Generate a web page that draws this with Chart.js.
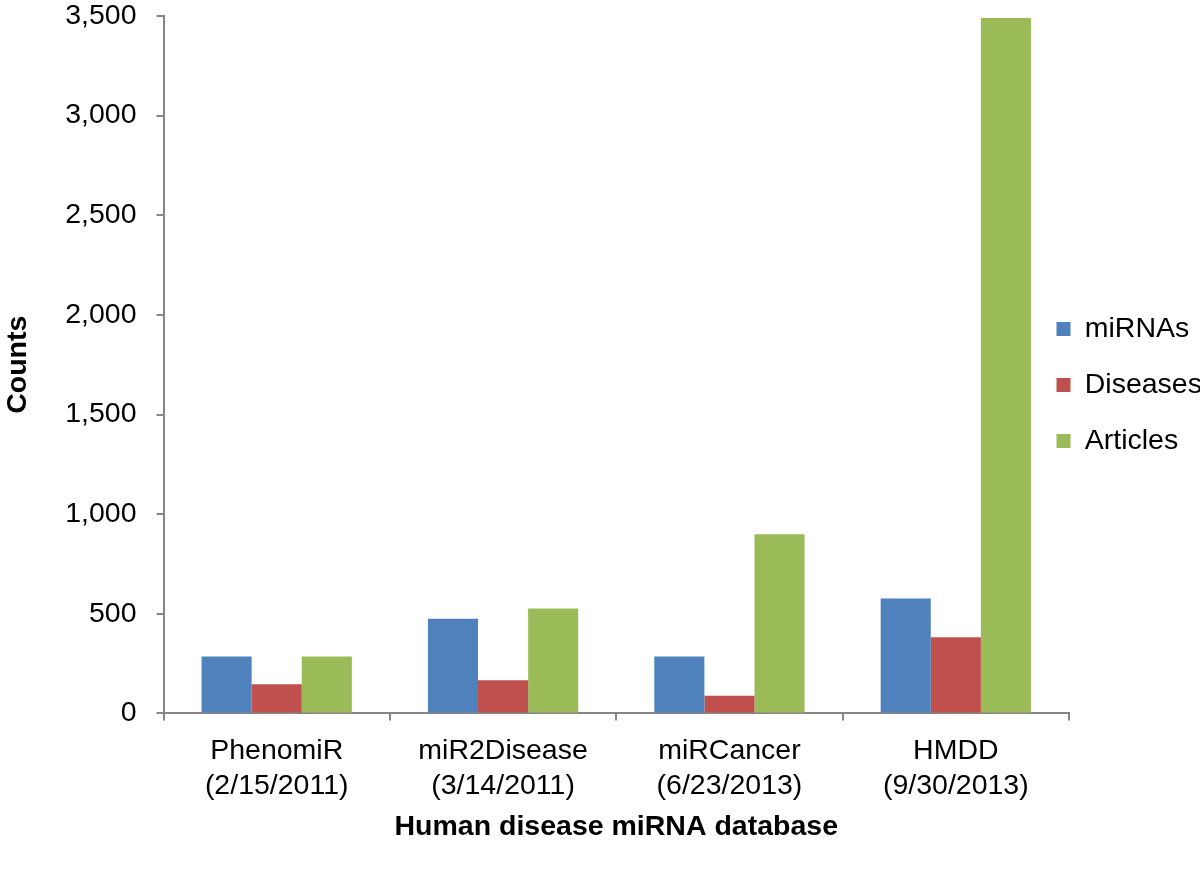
<!DOCTYPE html>
<html>
<head>
<meta charset="utf-8">
<script src="https://cdn.jsdelivr.net/npm/chart.js@4/dist/chart.umd.min.js"></script>
<style>
  html, body { margin: 0; padding: 0; background: #fff; }
  #wrap { width: 1200px; height: 873px; }
</style>
</head>
<body>
<div id="wrap"><canvas id="c" width="1200" height="873"></canvas></div>
<script>
const categories = [
  ["PhenomiR", "(2/15/2011)"],
  ["miR2Disease", "(3/14/2011)"],
  ["miRCancer", "(6/23/2013)"],
  ["HMDD", "(9/30/2013)"]
];
const miRNAs   = [285, 475, 285, 577];
const diseases = [146, 166, 89, 382];
const articles = [285, 527, 899, 3490];
const seriesNames = ["miRNAs", "Diseases", "Articles"];
const yTicks = [0, 500, 1000, 1500, 2000, 2500, 3000, 3500];

const FONT = "'Liberation Sans', Arial, Helvetica, sans-serif";
const AXIS = '#868686';
const FS = 28.5;

const legendShift = {
  id: 'legendShift',
  afterLayout(chart) {
    const lg = chart.legend;
    if (!lg) return;
    lg.left -= 40;
    lg.right = chart.width;
    lg.top -= 37; lg.bottom -= 37;
  }
};

new Chart(document.getElementById('c'), {
  type: 'bar',
  data: {
    labels: categories,
    datasets: [
      { label: seriesNames[0], data: miRNAs,   backgroundColor: '#4F81BD' },
      { label: seriesNames[1], data: diseases, backgroundColor: '#C0504D' },
      { label: seriesNames[2], data: articles, backgroundColor: '#9BBB59' }
    ]
  },
  options: {
    responsive: false,
    animation: false,
    devicePixelRatio: 1,
    layout: { padding: { top: 0, right: 0, bottom: 29, left: 0 } },
    datasets: { bar: { categoryPercentage: 0.664, barPercentage: 1.0 } },
    plugins: {
      tooltip: { enabled: false },
      legend: {
        position: 'right',
        maxWidth: 131,
        labels: {
          boxWidth: 14, boxHeight: 14, padding: 27.5,
          color: '#000',
          font: { family: FONT, size: FS }
        }
      }
    },
    scales: {
      x: {
        grid: { display: true, drawOnChartArea: false, drawTicks: true, tickLength: 7, color: AXIS, lineWidth: 2 },
        border: { display: true, color: AXIS, width: 2 },
        ticks: { color: '#000', padding: 14, maxRotation: 0, font: { family: FONT, size: FS } },
        title: { display: true, text: 'Human disease miRNA database', color: '#000',
                 font: { family: FONT, size: FS, weight: 'bold' }, padding: { top: -7, bottom: 0 } }
      },
      y: {
        min: 0, max: 3500,
        afterBuildTicks(scale) { scale.ticks = yTicks.map(v => ({ value: v })); },
        afterFit(scale) { scale.paddingTop = 16; },
        grid: { display: true, drawOnChartArea: false, drawTicks: true, tickLength: 7, color: AXIS, lineWidth: 2 },
        border: { display: true, color: AXIS, width: 2 },
        ticks: { color: '#000', padding: 20, font: { family: FONT, size: FS },
                 callback: v => v.toLocaleString('en-US') },
        title: { display: true, text: 'Counts', color: '#000',
                 font: { family: FONT, size: FS, weight: 'bold' }, padding: { top: 1, bottom: 10 } }
      }
    }
  },
  plugins: [legendShift]
});
</script>
</body>
</html>
